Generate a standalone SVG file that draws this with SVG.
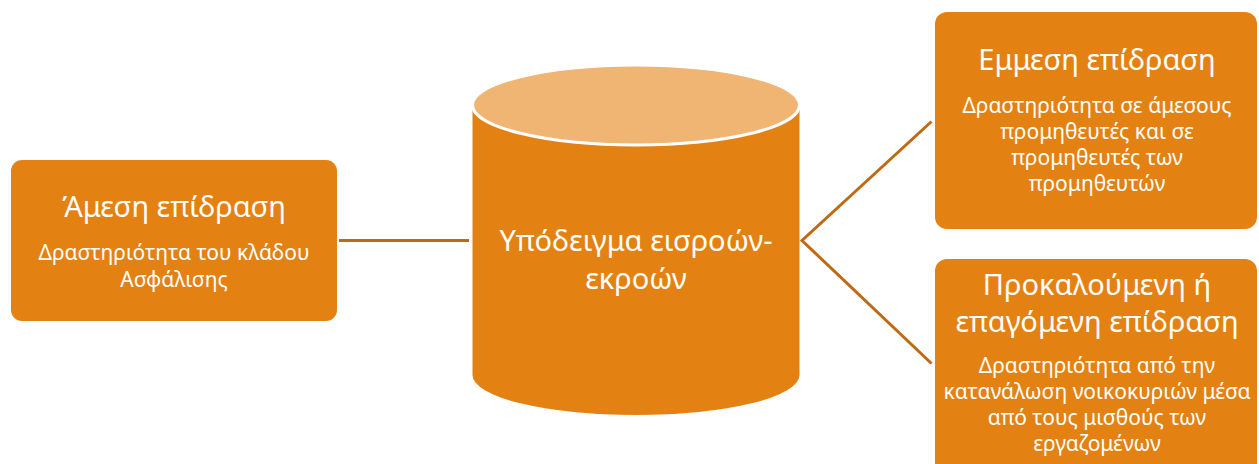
<svg xmlns="http://www.w3.org/2000/svg" width="1259" height="464" viewBox="0 0 1259 464">
  <style>
    .box { fill: #E38212; }
    .title { font-family: "Noto Sans", "Open Sans", sans-serif; font-size: 29px; fill: #ffffff; text-anchor: middle; }
    .body { font-family: "Noto Sans", "Open Sans", sans-serif; font-size: 21px; fill: #ffffff; text-anchor: middle; }
    .link { fill: none; stroke: #BF6A13; stroke-width: 3; }
  </style>
  <rect width="1259" height="464" fill="#ffffff"/>

  <g id="connectors">
    <line class="link" x1="339" y1="240.5" x2="469" y2="240.5"/>
    <polyline class="link" points="931.5,121.5 802,240.5 931.5,363.5"/>
  </g>

  <g id="direct">
    <rect class="box" x="11" y="160" width="326" height="161" rx="11"/>
    <text class="title" x="174" y="217">Άμεση επίδραση</text>
    <text class="body" x="174" y="260">Δραστηριότητα του κλάδου</text>
    <text class="body" x="174" y="287">Ασφάλισης</text>
  </g>

  <g id="model">
    <path class="box" d="M472.5,105 L472.5,375 A163.5,40 0 0 0 799.5,375 L799.5,105 Z"/>
    <ellipse cx="636" cy="105" rx="163.5" ry="40" fill="#F0B572" stroke="#ffffff" stroke-width="3"/>
    <text class="title" x="636" y="251">Υπόδειγμα εισροών-</text>
    <text class="title" x="636" y="289">εκροών</text>
  </g>

  <g id="indirect">
    <rect class="box" x="935" y="12" width="322" height="217" rx="12"/>
    <text class="title" x="1097" y="70">Εμμεση επίδραση</text>
    <text class="body" x="1097" y="113">Δραστηριότητα σε άμεσους</text>
    <text class="body" x="1097" y="139">προμηθευτές και σε</text>
    <text class="body" x="1097" y="165">προμηθευτές των</text>
    <text class="body" x="1097" y="191">προμηθευτών</text>
  </g>

  <g id="induced">
    <rect class="box" x="935" y="259" width="322" height="220" rx="12"/>
    <text class="title" x="1097" y="295">Προκαλούμενη ή</text>
    <text class="title" x="1097" y="332">επαγόμενη επίδραση</text>
    <text class="body" x="1097" y="373">Δραστηριότητα από την</text>
    <text class="body" x="1097" y="399">κατανάλωση νοικοκυριών μέσα</text>
    <text class="body" x="1097" y="425">από τους μισθούς των</text>
    <text class="body" x="1097" y="451">εργαζομένων</text>
  </g>
</svg>
